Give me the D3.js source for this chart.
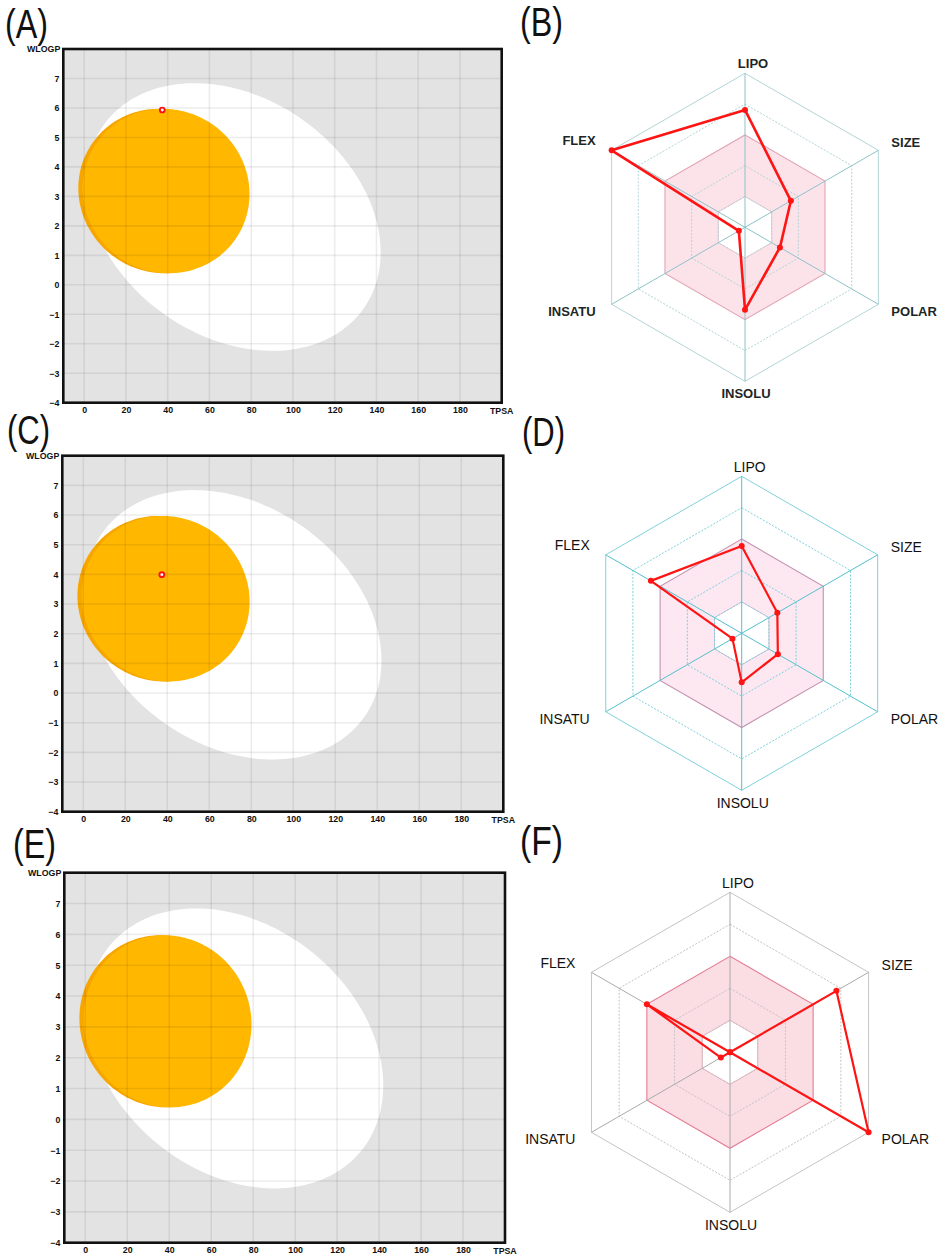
<!DOCTYPE html>
<html>
<head>
<meta charset="utf-8">
<script src="https://cdn.jsdelivr.net/npm/d3@7"></script>
<style>
    body { margin: 0; background: #ffffff; }
    svg { display: block; font-family: "Liberation Sans", Arial, sans-serif; }
</style>
</head>
<body>
<div id="figure"></div>
<script>
// ---- data ----
const tpsaTicks = [0, 20, 40, 60, 80, 100, 120, 140, 160, 180];
const wlogpTicks = [-4, -3, -2, -1, 0, 1, 2, 3, 4, 5, 6, 7];
const tpsaDomain = [-10, 200];
const wlogpDomain = [-4, 8];

// BOILED-Egg regions, in TPSA / WLOGP units (tilt = WLOGP shift at the right-most point)
const eggWhite = {tpsa: 71.5, wlogp: 2.3, tpsaHalf: 70.5, wlogpHalf: 4.54, tilt: -1.2};
const eggYolk = {tpsa: 39.2, wlogp: 3.18, tpsaHalf: 40, wlogpHalf: 2.79, tilt: -0.1};
const eggYolkEdge = {tpsa: 37.2, wlogp: 3.18, tpsaHalf: 40, wlogpHalf: 2.79, tilt: -0.1};

// molecules plotted in panels A, C, E (E has none)
const eggPanelIds = ["A", "C", "E"];
const moleculeTPSA = [[37.4], [37.4], []];
const moleculeWLOGP = [[5.93], [3.99], []];

// bioavailability radars, values on the 0-5 ring scale
const radarAxes = ["LIPO", "SIZE", "POLAR", "INSOLU", "INSATU", "FLEX"];
const radarRings = [1, 2, 3, 4, 5];
const optimalBand = [1, 3];
const radarPanelIds = ["B", "D", "F"];
const radarValuesB = [3.81, 1.72, 1.31, 2.68, 0.23, 5.0];
const radarValuesD = [2.78, 1.31, 1.33, 1.56, 0.34, 3.34];
const radarValuesF = [0, 3.84, 5.0, 0, 0.33, 3.0];

// ---- layout ----
const eggLayout = [
    {left: 63.3, right: 501.7, top: 49, bottom: 402.7},
    {left: 62.3, right: 503.3, top: 455.7, bottom: 811.7},
    {left: 64.3, right: 505, top: 872.7, bottom: 1242.7}
];
const radarLayout = [
    {cx: 745, cy: 227.3, r: 154, values: radarValuesB, bold: true, size: 13,
        ring: "#b3d4d7", spoke: "#8fc2c7", bandFill: "#fce3ea", bandStroke: "#e2a4b4", text: "#1d2626", lw: 2.6},
    {cx: 741.7, cy: 633.3, r: 157, values: radarValuesD, bold: false, size: 14,
        ring: "#7fd2dc", spoke: "#52c0cd", bandFill: "#fde8f2", bandStroke: "#c493b0", text: "#111", lw: 2.2},
    {cx: 730, cy: 1052.3, r: 160, values: radarValuesF, bold: false, size: 14,
        ring: "#c4c4c4", spoke: "#aaaaaa", bandFill: "#fbdde4", bandStroke: "#e47c94", text: "#111", lw: 2.2}
];
const panelLetters = [
    {t: "(A)", x: 5, y: 38}, {t: "(B)", x: 520, y: 36},
    {t: "(C)", x: 7, y: 444}, {t: "(D)", x: 522, y: 446},
    {t: "(E)", x: 13, y: 858}, {t: "(F)", x: 520, y: 855}
];

const svg = d3.select("#figure").append("svg")
    .attr("width", 948)
    .attr("height", 1260);

// ---- egg plots ----
function ellipsePoints(e) {
    const steps = d3.range(0, 180);
    const k = Math.sqrt(e.wlogpHalf * e.wlogpHalf - e.tilt * e.tilt);
    return steps.map(function(i) {
        const t = i / 180 * 2 * Math.PI;
        return [e.tpsa + e.tpsaHalf * Math.cos(t), e.wlogp + e.tilt * Math.cos(t) + k * Math.sin(t)];
    });
}

eggLayout.forEach(function(box, p) {
    const x = d3.scaleLinear().domain(tpsaDomain).range([box.left, box.right]);
    const y = d3.scaleLinear().domain(wlogpDomain).range([box.bottom, box.top]);
    const g = svg.append("g");
    const clipId = "clip-" + eggPanelIds[p];

    g.append("clipPath").attr("id", clipId)
        .append("rect")
        .attr("x", box.left).attr("y", box.top)
        .attr("width", box.right - box.left).attr("height", box.bottom - box.top);

    const plot = g.append("g").attr("clip-path", "url(#" + clipId + ")");
    plot.append("rect")
        .attr("x", box.left).attr("y", box.top)
        .attr("width", box.right - box.left).attr("height", box.bottom - box.top)
        .attr("fill", "#e3e3e3");

    const shape = d3.line()
        .x(d => x(d[0]))
        .y(d => y(d[1]))
        .curve(d3.curveLinearClosed);

    plot.append("path").attr("d", shape(ellipsePoints(eggWhite))).attr("fill", "#ffffff");
    plot.append("path").attr("d", shape(ellipsePoints(eggYolkEdge))).attr("fill", "#f7a600");
    plot.append("path").attr("d", shape(ellipsePoints(eggYolk))).attr("fill", "#ffb700");

    // grid shows faintly through every region
    plot.selectAll(".vgrid")
        .data(tpsaTicks)
        .join("line")
        .attr("x1", d => x(d)).attr("x2", d => x(d))
        .attr("y1", box.top).attr("y2", box.bottom)
        .attr("stroke", "#000").attr("stroke-opacity", 0.075).attr("stroke-width", 1.6);
    plot.selectAll(".hgrid")
        .data(wlogpTicks.slice(1))
        .join("line")
        .attr("y1", d => y(d)).attr("y2", d => y(d))
        .attr("x1", box.left).attr("x2", box.right)
        .attr("stroke", "#000").attr("stroke-opacity", 0.075).attr("stroke-width", 1.6);

    // molecules
    plot.selectAll(".mol")
        .data(d3.zip(moleculeTPSA[p], moleculeWLOGP[p]))
        .join("circle")
        .attr("cx", d => x(d[0]))
        .attr("cy", d => y(d[1]))
        .attr("r", 2.4)
        .attr("fill", "#ffffff")
        .attr("stroke", "#ff1010")
        .attr("stroke-width", 1.9);

    g.append("rect")
        .attr("x", box.left).attr("y", box.top)
        .attr("width", box.right - box.left).attr("height", box.bottom - box.top)
        .attr("fill", "none")
        .attr("stroke", "#111")
        .attr("stroke-width", 2.6);

    // axes as text only, like the original canvas plot
    const xAxis = d3.axisBottom(x).tickValues(tpsaTicks).tickSize(0).tickPadding(4);
    const yAxis = d3.axisLeft(y).tickValues(wlogpTicks).tickSize(0).tickPadding(4);
    const xg = g.append("g").attr("transform", "translate(0," + box.bottom + ")").call(xAxis);
    const yg = g.append("g").attr("transform", "translate(" + box.left + ",0)").call(yAxis);
    [xg, yg].forEach(function(a) {
        a.select(".domain").remove();
        a.selectAll("text")
            .attr("font-family", "'Liberation Sans', Arial, sans-serif")
            .attr("font-size", 8.8)
            .attr("font-weight", "bold")
            .attr("fill", "#111");
    });

    g.append("text")
        .attr("x", box.right).attr("y", box.bottom + 11)
        .attr("text-anchor", "middle")
        .attr("font-size", 8.8).attr("font-weight", "bold").attr("fill", "#111")
        .text("TPSA");
    g.append("text")
        .attr("x", box.left - 3).attr("y", box.top + 3)
        .attr("text-anchor", "end")
        .attr("font-size", 8.8).attr("font-weight", "bold").attr("fill", "#111")
        .text("WLOGP");
});

// ---- radars ----
const axisAngle = i => i * Math.PI / 3;

radarLayout.forEach(function(cfg, p) {
    const r = d3.scaleLinear().domain([0, 5]).range([0, cfg.r]);
    const g = svg.append("g")
        .attr("id", "radar-" + radarPanelIds[p])
        .attr("transform", "translate(" + cfg.cx + "," + cfg.cy + ")");

    const ringPath = function(level) {
        return d3.lineRadial()
            .angle((d, i) => axisAngle(i))
            .radius(() => r(level))
            .curve(d3.curveLinearClosed)(radarAxes);
    };

    // optimal band between rings 1 and 3
    g.append("path")
        .attr("d", ringPath(optimalBand[1]) + ringPath(optimalBand[0]))
        .attr("fill", cfg.bandFill)
        .attr("fill-rule", "evenodd");
    g.append("path")
        .attr("d", ringPath(optimalBand[1]))
        .attr("fill", "none").attr("stroke", cfg.bandStroke).attr("stroke-width", 1.1);
    g.append("path")
        .attr("d", ringPath(optimalBand[0]))
        .attr("fill", "none").attr("stroke", cfg.bandStroke).attr("stroke-opacity", 0.55).attr("stroke-width", 1);

    g.selectAll(".ring")
        .data(radarRings.filter(d => d !== optimalBand[1]))
        .join("path")
        .attr("d", d => ringPath(d))
        .attr("fill", "none")
        .attr("stroke", cfg.ring)
        .attr("stroke-width", 1)
        .attr("stroke-dasharray", d => d === 5 ? null : "2,1.5");

    g.selectAll(".spoke")
        .data(radarAxes)
        .join("line")
        .attr("x1", 0).attr("y1", 0)
        .attr("x2", (d, i) => r(5) * Math.sin(axisAngle(i)))
        .attr("y2", (d, i) => -r(5) * Math.cos(axisAngle(i)))
        .attr("stroke", cfg.spoke)
        .attr("stroke-width", 1);

    // axis labels
    g.selectAll(".lab")
        .data(radarAxes)
        .join("text")
        .attr("x", function(d, i) {
            const vx = r(5) * Math.sin(axisAngle(i));
            if (i === 0) return vx + 8;
            if (i === 3) return vx + 1;
            return i < 3 ? vx + 13 : vx - 16;
        })
        .attr("y", function(d, i) {
            const vy = -r(5) * Math.cos(axisAngle(i));
            const off = [-9.5, -7.5, 7, 12.5, 7, -9.5][i];
            return vy + off;
        })
        .attr("dy", "0.36em")
        .attr("text-anchor", (d, i) => (i === 0 || i === 3) ? "middle" : (i < 3 ? "start" : "end"))
        .attr("font-size", cfg.size)
        .attr("font-weight", cfg.bold ? "bold" : "normal")
        .attr("fill", cfg.text)
        .text(d => d);

    // molecule profile
    g.append("path")
        .attr("d", d3.lineRadial()
            .angle((d, i) => axisAngle(i))
            .radius(d => r(d))
            .curve(d3.curveLinearClosed)(cfg.values))
        .attr("fill", "none")
        .attr("stroke", "#ff1414")
        .attr("stroke-width", cfg.lw)
        .attr("stroke-linejoin", "round");
    g.selectAll(".vtx")
        .data(cfg.values)
        .join("circle")
        .attr("cx", (d, i) => r(d) * Math.sin(axisAngle(i)))
        .attr("cy", (d, i) => -r(d) * Math.cos(axisAngle(i)))
        .attr("r", 3)
        .attr("fill", "#ff1414");
});

// ---- panel letters ----
svg.selectAll(".letter")
    .data(panelLetters)
    .join("text")
    .attr("x", d => d.x)
    .attr("y", d => d.y)
    .attr("font-size", 40)
    .attr("textLength", 43)
    .attr("lengthAdjust", "spacingAndGlyphs")
    .attr("fill", "#111")
    .text(d => d.t);
</script>
</body>
</html>
